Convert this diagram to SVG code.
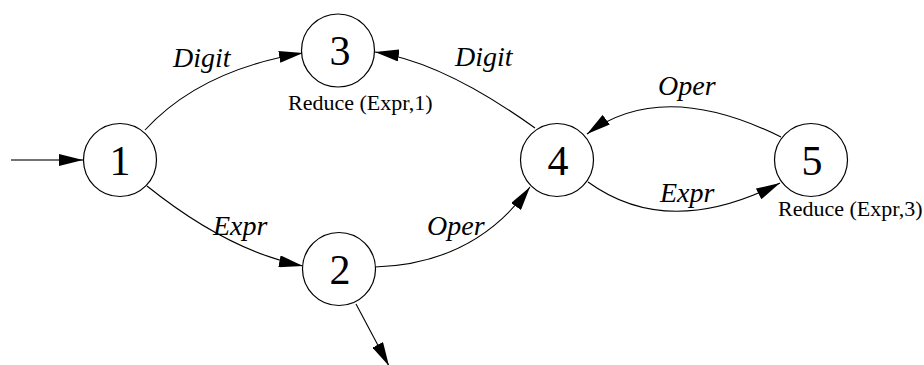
<svg xmlns="http://www.w3.org/2000/svg" width="924" height="365" viewBox="0 0 924 365">
  <style>
    .state { fill: #ffffff; stroke: #000000; stroke-width: 1.2; }
    .edge { fill: none; stroke: #000000; stroke-width: 1.1; marker-end: url(#arrow); }
    .entry { fill: none; stroke: #444444; stroke-width: 1.6; marker-end: url(#arrow); }
  </style>
  <defs>
    <marker id="arrow" markerUnits="userSpaceOnUse" markerWidth="24" markerHeight="12" refX="24" refY="6" orient="auto">
      <path d="M0,0 L24,6 L0,12 z" fill="#000000"/>
    </marker>
  </defs>
  <rect width="924" height="365" fill="#ffffff"/>

  <g id="connectors">
    <!-- start arrow into state 1 -->
    <path class="entry" d="M11,160 L83,160"/>
    <!-- 1 -> 3 : Digit -->
    <path class="edge" d="M145,130 Q200,70 303,53"/>
    <!-- 1 -> 2 : Expr -->
    <path class="edge" d="M147,186 Q228,251 303,266"/>
    <!-- 4 -> 3 : Digit -->
    <path class="edge" d="M535,128 Q443,62 375,52"/>
    <!-- 2 -> 4 : Oper -->
    <path class="edge" d="M375,267 Q475,264 530,187"/>
    <!-- 5 -> 4 : Oper -->
    <path class="edge" d="M781,137 Q662,78 587,134"/>
    <!-- 4 -> 5 : Expr -->
    <path class="edge" d="M588,182 Q668,240 780,183"/>
    <!-- accept arrow out of state 2 -->
    <path class="edge" d="M356,304 L389,366"/>

    <!-- transition labels -->
    <g font-family="Liberation Serif" font-size="28" font-style="italic" fill="#000">
      <text x="173" y="67">Digit</text>
      <text x="213" y="235">Expr</text>
      <text x="455" y="66">Digit</text>
      <text x="427" y="235">Oper</text>
      <text x="658" y="95">Oper</text>
      <text x="660" y="202">Expr</text>
    </g>
  </g>

  <g id="state1">
    <circle class="state" cx="120" cy="160" r="36.5"/>
    <text font-family="Liberation Serif" font-size="42" text-anchor="middle" x="120" y="175">1</text>
  </g>
  <g id="state2">
    <circle class="state" cx="339" cy="269" r="36.5"/>
    <text font-family="Liberation Serif" font-size="42" text-anchor="middle" x="340" y="284">2</text>
  </g>
  <g id="state3">
    <circle class="state" cx="338" cy="50.5" r="36.5"/>
    <text font-family="Liberation Serif" font-size="42" text-anchor="middle" x="340" y="65">3</text>
    <text font-family="Liberation Serif" font-size="22" x="288" y="110">Reduce (Expr,1)</text>
  </g>
  <g id="state4">
    <circle class="state" cx="557" cy="160" r="36.5"/>
    <text font-family="Liberation Serif" font-size="42" text-anchor="middle" x="558" y="175">4</text>
  </g>
  <g id="state5">
    <circle class="state" cx="811" cy="160" r="36.5"/>
    <text font-family="Liberation Serif" font-size="42" text-anchor="middle" x="812" y="175">5</text>
    <text font-family="Liberation Serif" font-size="22" x="778" y="216">Reduce (Expr,3)</text>
  </g>
</svg>
